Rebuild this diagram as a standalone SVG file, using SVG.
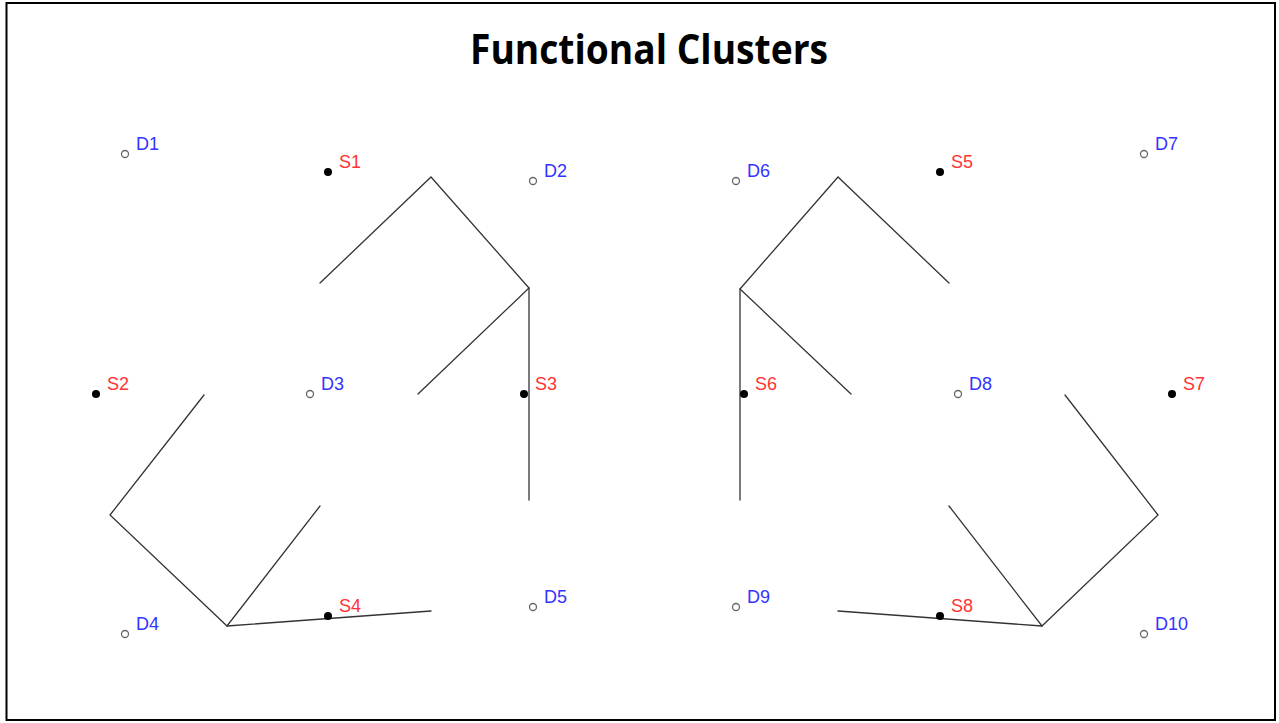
<svg xmlns="http://www.w3.org/2000/svg" width="1279" height="723" viewBox="0 0 1279 723">
<style>
.ln{stroke:#333;stroke-width:1.3;fill:none;stroke-linecap:round;stroke-linejoin:miter}
.d{fill:#fff;stroke:#666;stroke-width:1.3}
.s{fill:#000}
.dl{fill:#3333ff;font-family:"Liberation Sans",Arial,sans-serif;font-size:18px}
.sl{fill:#ff3333;font-family:"Liberation Sans",Arial,sans-serif;font-size:18px}
</style>
<rect x="0" y="0" width="1279" height="723" fill="#fff"/>
<rect x="6.5" y="3" width="1268.5" height="717" fill="none" stroke="#000" stroke-width="2"/>
<text x="649" y="64" text-anchor="middle" font-family="'Liberation Sans Narrow','Open Sans',sans-serif" font-weight="bold" font-size="42" textLength="358" lengthAdjust="spacingAndGlyphs" fill="#000">Functional Clusters</text>
<g id="connectors">
<polyline class="ln" points="320,283 431,177 529,288 418,394"/>
<line class="ln" x1="529" y1="288" x2="529" y2="500"/>
<polyline class="ln" points="204,395 110,515 227,626 320,506"/>
<line class="ln" x1="227" y1="626" x2="431" y2="611"/>
<polyline class="ln" points="949,283 838,177 740,289 851,394"/>
<line class="ln" x1="740" y1="289" x2="740" y2="500"/>
<polyline class="ln" points="1065,395 1158,515 1042,626 949,506"/>
<line class="ln" x1="1042" y1="626" x2="838" y2="611"/>
</g>
<g id="D1"><circle class="d" cx="125" cy="154" r="3.5"/><text class="dl" x="136" y="150">D1</text></g>
<g id="S1"><circle class="s" cx="328" cy="172" r="4"/><text class="sl" x="339" y="168">S1</text></g>
<g id="D2"><circle class="d" cx="533" cy="181" r="3.5"/><text class="dl" x="544" y="177">D2</text></g>
<g id="S2"><circle class="s" cx="96" cy="394" r="4"/><text class="sl" x="107" y="390">S2</text></g>
<g id="D3"><circle class="d" cx="310" cy="394" r="3.5"/><text class="dl" x="321" y="390">D3</text></g>
<g id="S3"><circle class="s" cx="524" cy="394" r="4"/><text class="sl" x="535" y="390">S3</text></g>
<g id="D4"><circle class="d" cx="125" cy="634" r="3.5"/><text class="dl" x="136" y="630">D4</text></g>
<g id="S4"><circle class="s" cx="328" cy="616" r="4"/><text class="sl" x="339" y="612">S4</text></g>
<g id="D5"><circle class="d" cx="533" cy="607" r="3.5"/><text class="dl" x="544" y="603">D5</text></g>
<g id="D6"><circle class="d" cx="736" cy="181" r="3.5"/><text class="dl" x="747" y="177">D6</text></g>
<g id="S5"><circle class="s" cx="940" cy="172" r="4"/><text class="sl" x="951" y="168">S5</text></g>
<g id="D7"><circle class="d" cx="1144" cy="154" r="3.5"/><text class="dl" x="1155" y="150">D7</text></g>
<g id="S6"><circle class="s" cx="744" cy="394" r="4"/><text class="sl" x="755" y="390">S6</text></g>
<g id="D8"><circle class="d" cx="958" cy="394" r="3.5"/><text class="dl" x="969" y="390">D8</text></g>
<g id="S7"><circle class="s" cx="1172" cy="394" r="4"/><text class="sl" x="1183" y="390">S7</text></g>
<g id="D9"><circle class="d" cx="736" cy="607" r="3.5"/><text class="dl" x="747" y="603">D9</text></g>
<g id="S8"><circle class="s" cx="940" cy="616" r="4"/><text class="sl" x="951" y="612">S8</text></g>
<g id="D10"><circle class="d" cx="1144" cy="634" r="3.5"/><text class="dl" x="1155" y="630">D10</text></g>
</svg>
